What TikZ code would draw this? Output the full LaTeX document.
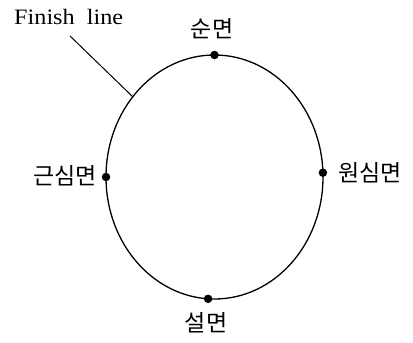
\documentclass[tikz,border=0pt]{standalone}
\usepackage{fontspec}
\setmainfont{Liberation Serif}
\newfontfamily\kr{Noto Sans CJK KR}
\begin{document}
\begin{tikzpicture}[x=1pt,y=-1pt,
  dotmark/.style={circle,fill=black,inner sep=0pt,minimum size=8.5pt},
  krlabel/.style={font=\kr\fontsize{23}{23}\selectfont,inner sep=0pt},
  curve/.style={line width=1.3pt}]
\useasboundingbox (0,0) rectangle (413,343);
\draw[curve] (214.5,177) ellipse [x radius=108.5, y radius=122];
\node[dotmark] (top) at (214.5,55) {};
\node[dotmark] (bot) at (208.1,298.8) {};
\node[dotmark] (lft) at (106,177) {};
\node[dotmark] (rgt) at (322.9,172.7) {};
\coordinate (fl) at (133,97);
\node[krlabel] (ltop) at (212,29) {순면};
\node[krlabel] (lbot) at (206,323) {설면};
\node[krlabel] (llft) at (65,176) {근심면};
\node[krlabel] (lrgt) at (370,173) {원심면};
\node[inner sep=0pt,anchor=base west,font=\fontsize{22}{22}\selectfont,xscale=1.1] (fin) at (14,24) {Finish\hspace{0.5em}line};
\coordinate (fs) at (70,36);
\draw[line width=1pt] (fs) -- (fl);
\end{tikzpicture}
\end{document}
